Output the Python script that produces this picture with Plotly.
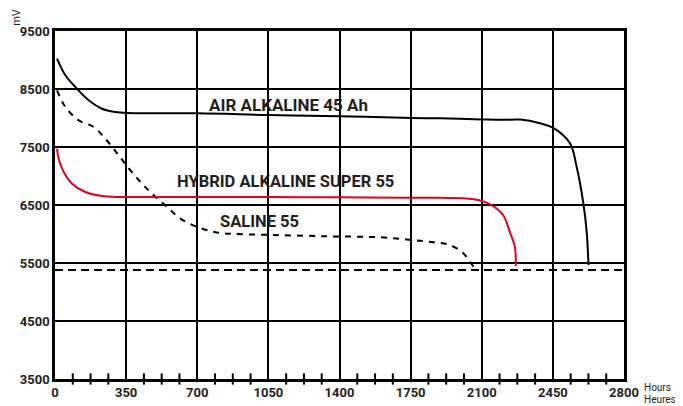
import plotly.graph_objects as go

# ---- data (hours, mV) ----
air_x = [10, 51, 108, 166, 231, 297, 354, 700, 1050, 1400, 1755, 1895, 2100, 2200, 2290, 2387, 2452, 2534, 2567, 2600, 2617, 2625]
air_y = [9023, 8736, 8505, 8305, 8160, 8103, 8086, 8081, 8052, 8030, 8000, 7995, 7975, 7968, 7972, 7909, 7830, 7563, 7160, 6529, 6012, 5466]

hyb_x = [10, 18, 43, 84, 149, 231, 313, 371, 700, 1050, 1400, 1750, 2008, 2097, 2156, 2205, 2240, 2263, 2267]
hyb_y = [7471, 7298, 7069, 6867, 6724, 6655, 6638, 6638, 6640, 6636, 6632, 6625, 6616, 6574, 6483, 6328, 6017, 5781, 5450]

sal_x = [10, 51, 117, 190, 248, 313, 371, 427, 484, 550, 615, 697, 779, 828, 1074, 1353, 1599, 1755, 1862, 1944, 2009, 2042, 2059]
sal_y = [8478, 8190, 7960, 7845, 7643, 7357, 7098, 6874, 6672, 6471, 6270, 6126, 6040, 6012, 5983, 5960, 5943, 5897, 5857, 5810, 5667, 5522, 5437]

cutoff_mv = 5380

x_ticks = [0, 350, 700, 1050, 1400, 1750, 2100, 2450, 2800]
y_ticks = [3500, 4500, 5500, 6500, 7500, 8500, 9500]
minor_ticks = [v for v in [i * 87.5 for i in range(1, 32)] if v % 350 != 0]

labels = [
    ("AIR ALKALINE 45 Ah", 749, 8222, 17),
    ("HYBRID ALKALINE SUPER 55", 589, 6900, 16.5),
    ("SALINE 55", 802, 6222, 16.5),
]

FONT = "Roboto"
TXT = "#231f20"
fig = go.Figure()

fig.add_trace(go.Scatter(x=[0, 2800], y=[cutoff_mv, cutoff_mv], mode="lines",
                         line=dict(color="black", width=2, dash="8px,5px"),
                         hoverinfo="skip", cliponaxis=False))
fig.add_trace(go.Scatter(x=sal_x, y=sal_y, mode="lines",
                         line=dict(color="black", width=2, dash="6px,6px", shape="spline", smoothing=1.0),
                         hoverinfo="skip"))
fig.add_trace(go.Scatter(x=hyb_x, y=hyb_y, mode="lines",
                         line=dict(color="#e2001a", width=2, shape="spline", smoothing=1.0),
                         hoverinfo="skip"))
fig.add_trace(go.Scatter(x=air_x, y=air_y, mode="lines",
                         line=dict(color="black", width=2, shape="spline", smoothing=1.0),
                         hoverinfo="skip"))
fig.add_trace(go.Scatter(x=minor_ticks, y=[3500] * len(minor_ticks), mode="markers",
                         marker=dict(symbol="line-ns", size=8, line=dict(color="black", width=2)),
                         hoverinfo="skip", cliponaxis=False))

for txt, x, y, sz in labels:
    fig.add_annotation(x=x, y=y, text=txt, showarrow=False, xanchor="left", yanchor="middle",
                       font=dict(family=FONT, size=sz, color=TXT, weight="bold"))

fig.add_annotation(xref="paper", yref="paper", x=-0.069, y=1.04, text="mV", textangle=-90,
                   xanchor="center", yanchor="middle", borderpad=0,
                   showarrow=False, font=dict(family=FONT, size=11, color=TXT))
fig.add_annotation(xref="paper", yref="paper", x=1.034, y=-0.0244, text="Hours", xanchor="left",
                   yanchor="middle", borderpad=0, showarrow=False,
                   font=dict(family=FONT, size=10, color=TXT))
fig.add_annotation(xref="paper", yref="paper", x=1.034, y=-0.0603, text="Heures", xanchor="left",
                   yanchor="middle", borderpad=0, showarrow=False,
                   font=dict(family=FONT, size=10, color=TXT))

axis_common = dict(showgrid=True, gridcolor="black", gridwidth=2, showline=True, linecolor="black",
                   linewidth=2.5, mirror=True, ticks="", zeroline=False, automargin=False,
                   tickfont=dict(family=FONT, size=13, color=TXT, weight="bold"))
fig.update_xaxes(range=[0, 2800], tickvals=x_ticks, ticktext=[str(v) for v in x_ticks], **axis_common)
fig.update_yaxes(range=[3500, 9500], tickvals=y_ticks, ticktext=[str(v) for v in y_ticks], **axis_common)

# page body adds an 8px offset, so the figure is sized/margined to land the plot area where the reference has it
fig.update_layout(width=675, height=398, margin=dict(l=47, r=59, t=23, b=27, autoexpand=False),
                  plot_bgcolor="white", paper_bgcolor="white", showlegend=False)

fig.write_html("out.html")
